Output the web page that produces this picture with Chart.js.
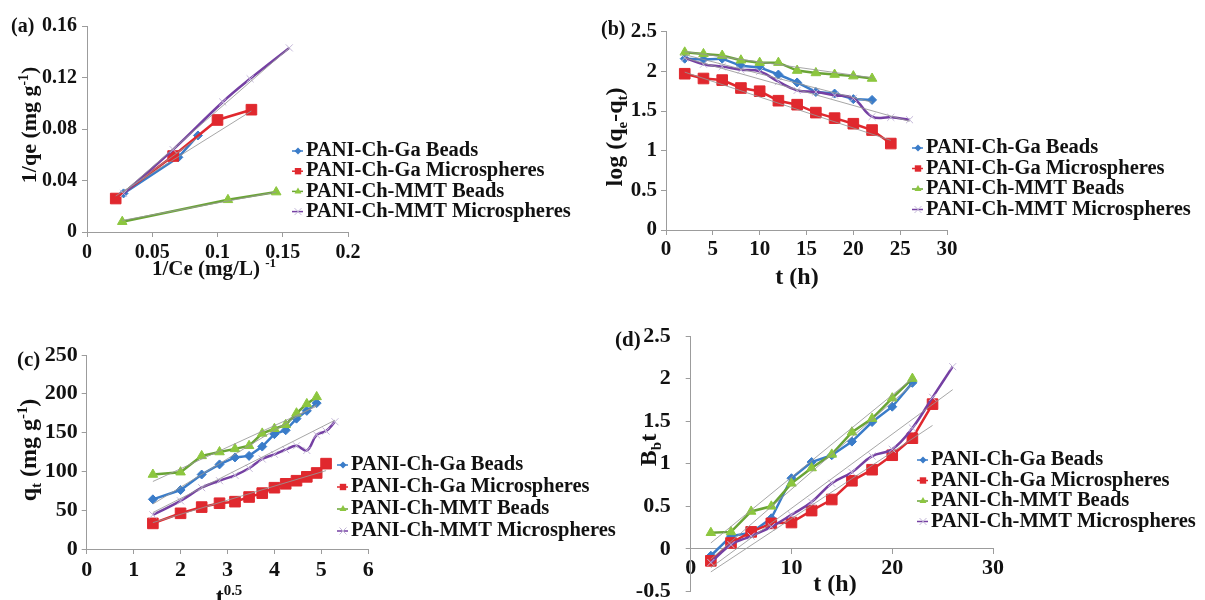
<!DOCTYPE html>
<html>
<head>
<meta charset="utf-8">
<title>PANI composite adsorption plots</title>
<script src="https://cdn.jsdelivr.net/npm/chart.js@4.4.0/dist/chart.umd.min.js"></script>
<style>
  html, body { margin: 0; padding: 0; background: #fff; }
  #wrap { position: relative; width: 1205px; height: 600px; overflow: hidden; }
  canvas { position: absolute; }
</style>
</head>
<body>
<div id="wrap">
  <canvas id="chartA" width="600" height="300" style="left:0;top:0"></canvas>
  <canvas id="chartB" width="605" height="300" style="left:600px;top:0"></canvas>
  <canvas id="chartC" width="640" height="300" style="left:0;top:300px"></canvas>
  <canvas id="chartD" width="605" height="300" style="left:600px;top:300px"></canvas>
</div>
<script>
const seriesNames = ['PANI-Ch-Ga Beads', 'PANI-Ch-Ga Microspheres', 'PANI-Ch-MMT Beads', 'PANI-Ch-MMT Microspheres'];

// (a) 1/qe vs 1/Ce
const aGaBeadsX = [0.028, 0.070, 0.085];
const aGaBeadsY = [0.030, 0.058, 0.075];
const aGaMicroX = [0.022, 0.066, 0.100, 0.126];
const aGaMicroY = [0.026, 0.059, 0.087, 0.095];
const aMmtBeadsX = [0.027, 0.108, 0.145];
const aMmtBeadsY = [0.008, 0.025, 0.031];
const aMmtMicroX = [0.028, 0.066, 0.104, 0.125, 0.155];
const aMmtMicroY = [0.030, 0.064, 0.101, 0.119, 0.143];
const aTrendGaBeads = [[0.028, 0.031], [0.086, 0.074]];
const aTrendGaMicro = [[0.022, 0.028], [0.126, 0.094]];
const aTrendMmtBeads = [[0.027, 0.009], [0.145, 0.031]];
const aTrendMmtMicro = [[0.028, 0.031], [0.155, 0.143]];
const aXTicks = [0, 0.05, 0.1, 0.15, 0.2];
const aYTicks = [0, 0.04, 0.08, 0.12, 0.16];

// (b) log(qe-qt) vs t, and (d) Bt vs t
const tHours = [2, 4, 6, 8, 10, 12, 14, 16, 18, 20, 22, 24, 26];
const bGaBeads = [2.16, 2.15, 2.16, 2.07, 2.05, 1.96, 1.86, 1.74, 1.72, 1.65, 1.64];
const bGaMicro = [1.97, 1.91, 1.89, 1.79, 1.75, 1.63, 1.58, 1.48, 1.41, 1.34, 1.26, 1.09];
const bMmtBeads = [2.24, 2.22, 2.20, 2.14, 2.11, 2.11, 2.01, 1.98, 1.96, 1.94, 1.91];
const bMmtMicro = [2.17, 2.09, 2.06, 2.02, 2.00, 1.87, 1.76, 1.74, 1.70, 1.66, 1.43, 1.42, 1.39];
const bTrendGaBeads = [[2, 2.21], [22, 1.61]];
const bTrendGaMicro = [[2, 1.99], [24, 1.13]];
const bTrendMmtBeads = [[2, 2.25], [22, 1.92]];
const bTrendMmtMicro = [[2, 2.17], [26, 1.37]];
const bXTicks = [0, 5, 10, 15, 20, 25, 30];
const bYTicks = [0, 0.5, 1, 1.5, 2, 2.5];

// (c) qt vs t^0.5
const sqrtT = [1.41, 2, 2.45, 2.83, 3.16, 3.46, 3.74, 4, 4.24, 4.47, 4.69, 4.9, 5.1, 5.29];
const cGaBeads = [64, 76, 96, 109, 118, 120, 132, 148, 153, 168, 178, 188];
const cGaMicro = [33, 46, 54, 59, 61, 67, 72, 79, 84, 88, 93, 98, 110];
const cMmtBeads = [96, 99, 120, 125, 129, 133, 149, 155, 160, 175, 187, 196];
const cMmtMicro = [44, 62, 79, 88, 95, 104, 116, 122, 128, 133, 127, 147, 152, 164];
const cTrendGaBeads = [[1.41, 58], [4.9, 186]];
const cTrendGaMicro = [[1.41, 34], [5.1, 101]];
const cTrendMmtBeads = [[1.41, 87], [4.9, 184]];
const cTrendMmtMicro = [[1.41, 47], [5.29, 166]];
const cXTicks = [0, 1, 2, 3, 4, 5, 6];
const cYTicks = [0, 50, 100, 150, 200, 250];

const dGaBeads = [-0.08, 0.15, 0.19, 0.36, 0.83, 1.02, 1.10, 1.26, 1.49, 1.67, 1.95];
const dGaMicro = [-0.14, 0.07, 0.20, 0.30, 0.31, 0.45, 0.58, 0.80, 0.93, 1.10, 1.30, 1.70];
const dMmtBeads = [0.19, 0.20, 0.44, 0.50, 0.77, 0.95, 1.11, 1.37, 1.53, 1.77, 2.00];
const dMmtMicro = [-0.16, 0.05, 0.15, 0.26, 0.40, 0.55, 0.77, 0.90, 1.09, 1.17, 1.42, 1.78, 2.14];
const dTrendGaBeads = [[2, -0.12], [22, 1.93]];
const dTrendGaMicro = [[2, -0.27], [24, 1.45]];
const dTrendMmtBeads = [[2, 0.07], [22, 2.00]];
const dTrendMmtMicro = [[2, -0.22], [26, 1.87]];
const dXTicks = [0, 10, 20, 30];
const dYTicks = [-0.5, 0, 0.5, 1, 1.5, 2, 2.5];

const FAMILY = '"Liberation Serif", "Times New Roman", serif';
const TEXT = '#111';
const AXIS = '#9c9c9c';
const TREND = 'rgba(150,150,150,0.85)';

const seriesStyle = [
  { line: '#3a7cc9', fill: '#3a7cc9', mark: '#3a7cc9', point: 'rectRot', r: 4.5, tension: 0 },
  { line: '#e0282e', fill: '#e0282e', mark: '#e0282e', point: 'rect', r: 7.5, tension: 0 },
  { line: '#6aa436', fill: '#8cc63f', mark: '#8cc63f', point: 'triangle', r: 5.5, tension: 0 },
  { line: '#7540a3', fill: '#c9bfdc', mark: '#c4b8d8', point: 'crossRot', r: 5, tension: 0.4 },
];

function buildDatasets(xsList, ysList, trends) {
  const sets = ysList.map((ys, i) => {
    const st = seriesStyle[i];
    const xs = xsList[i];
    return {
      label: seriesNames[i],
      data: ys.map((y, k) => ({ x: xs[k], y })),
      showLine: true,
      borderColor: st.line,
      borderWidth: 2.5,
      tension: st.tension,
      pointStyle: st.point,
      pointRadius: st.r,
      pointBackgroundColor: st.fill,
      pointBorderColor: st.mark,
      pointBorderWidth: 1,
      order: 3 - i,
    };
  });
  trends.forEach(seg => sets.push({
    data: seg.map(([x, y]) => ({ x, y })),
    showLine: true, borderColor: TREND, borderWidth: 1, pointRadius: 0, order: -1,
  }));
  return sets;
}

function axis(range, ticks, size, pad, fit, position) {
  const o = {
    type: 'linear', min: range[0], max: range[1],
    afterBuildTicks: s => { s.ticks = ticks.map(v => ({ value: v })); },
    afterFit: s => { fit(s); s.paddingTop = s.paddingBottom = s.paddingLeft = s.paddingRight = 0; },
    grid: { drawOnChartArea: false, tickLength: 5, color: AXIS, lineWidth: 1 },
    border: { color: AXIS, width: 1 },
    ticks: {
      color: TEXT, padding: pad, autoSkip: false, maxRotation: 0,
      font: { family: FAMILY, weight: 'bold', size },
      callback: v => String(+(+v).toFixed(3)),
    },
  };
  if (position) o.position = position;
  return o;
}

// text with sub/superscripts, centred on (x, y) or left-aligned
function drawRich(ctx, it) {
  ctx.save();
  ctx.translate(it.x, it.y);
  if (it.rot) ctx.rotate(-Math.PI / 2);
  ctx.fillStyle = TEXT;
  ctx.textBaseline = 'alphabetic';
  ctx.textAlign = 'left';
  const pieces = it.parts.map(p => {
    const s = (p.sup || p.sub) ? it.size * 0.62 : it.size;
    ctx.font = `bold ${s}px ${FAMILY}`;
    return Object.assign({ s, w: ctx.measureText(p.text).width }, p);
  });
  const total = pieces.reduce((a, p) => a + p.w, 0);
  let cx = it.align === 'left' ? 0 : -total / 2;
  const base = it.size * 0.34;
  pieces.forEach(p => {
    ctx.font = `bold ${p.s}px ${FAMILY}`;
    const dy = p.sup ? -it.size * 0.4 : p.sub ? it.size * 0.2 : 0;
    ctx.fillText(p.text, cx, base + dy);
    cx += p.w;
  });
  ctx.restore();
}

function drawMark(ctx, kind, x, y, r) {
  ctx.beginPath();
  if (kind === 'rectRot') {
    ctx.moveTo(x - r, y); ctx.lineTo(x, y - r); ctx.lineTo(x + r, y); ctx.lineTo(x, y + r); ctx.closePath(); ctx.fill();
  } else if (kind === 'rect') {
    ctx.rect(x - r, y - r, 2 * r, 2 * r); ctx.fill();
  } else if (kind === 'triangle') {
    ctx.moveTo(x, y - r); ctx.lineTo(x + r * 0.87, y + r * 0.5); ctx.lineTo(x - r * 0.87, y + r * 0.5); ctx.closePath(); ctx.fill();
  } else {
    ctx.moveTo(x - r, y - r); ctx.lineTo(x + r, y + r); ctx.moveTo(x + r, y - r); ctx.lineTo(x - r, y + r); ctx.stroke();
  }
}

function legendPlugin(lg) {
  return {
    id: 'sideLegend',
    afterDraw(chart) {
      const ctx = chart.ctx;
      ctx.save();
      seriesNames.forEach((name, i) => {
        const st = seriesStyle[i];
        const y = lg.y0 + i * lg.gap;
        ctx.strokeStyle = st.line;
        ctx.lineWidth = 1.5;
        ctx.beginPath(); ctx.moveTo(lg.x - 6, y); ctx.lineTo(lg.x + 5, y); ctx.stroke();
        ctx.fillStyle = st.fill;
        ctx.strokeStyle = st.mark;
        ctx.lineWidth = 1;
        drawMark(ctx, st.point, lg.x, y, [3.5, 3.2, 4, 3.5][i]);
        ctx.fillStyle = TEXT;
        ctx.font = `bold 20.5px ${FAMILY}`;
        ctx.textBaseline = 'middle';
        ctx.textAlign = 'left';
        ctx.fillText(name, lg.x + 8, y);
      });
      ctx.restore();
    },
  };
}

function textPlugin(items) {
  return { id: 'panelText', afterDraw(chart) { items.forEach(it => drawRich(chart.ctx, it)); } };
}

function makePanel(id, p) {
  new Chart(document.getElementById(id), {
    type: 'scatter',
    data: { datasets: buildDatasets(p.xs, p.ys, p.trends) },
    options: {
      responsive: false,
      animation: false,
      events: [],
      layout: { padding: { top: p.top, right: p.right, left: 0, bottom: 0 } },
      plugins: { legend: { display: false }, tooltip: { enabled: false } },
      scales: {
        x: axis(p.xRange, p.xTicks, p.font, p.xPad, s => { s.height = p.xHeight; }, p.xPos),
        y: axis(p.yRange, p.yTicks, p.font, p.yPad, s => { s.width = p.yWidth; }),
      },
    },
    plugins: [legendPlugin(p.legend), textPlugin(p.texts)],
  });
}

makePanel('chartA', {
  xs: [aGaBeadsX, aGaMicroX, aMmtBeadsX, aMmtMicroX],
  ys: [aGaBeadsY, aGaMicroY, aMmtBeadsY, aMmtMicroY],
  trends: [aTrendGaBeads, aTrendGaMicro, aTrendMmtBeads, aTrendMmtMicro],
  xRange: [0, 0.2], xTicks: aXTicks, yRange: [0, 0.16], yTicks: aYTicks,
  font: 20, xPad: 4, yPad: 5, yWidth: 87, xHeight: 68, top: 26, right: 252,
  legend: { x: 298, y0: 151, gap: 20.2 },
  texts: [
    { parts: [{ text: '(a)' }], x: 11, y: 25, size: 20, align: 'left' },
    { parts: [{ text: '1/qe (mg g' }, { text: '-1', sup: true }, { text: ')' }], x: 29, y: 125, size: 22, rot: true },
    { parts: [{ text: '1/Ce (mg/L) ' }, { text: '-1', sup: true }], x: 214, y: 268, size: 21 },
  ],
});

makePanel('chartB', {
  xs: [tHours, tHours, tHours, tHours],
  ys: [bGaBeads, bGaMicro, bMmtBeads, bMmtMicro],
  trends: [bTrendGaBeads, bTrendGaMicro, bTrendMmtBeads, bTrendMmtMicro],
  xRange: [0, 30], xTicks: bXTicks, yRange: [0, 2.5], yTicks: bYTicks,
  font: 21, xPad: 2, yPad: 4, yWidth: 66, xHeight: 70, top: 31.7, right: 258,
  legend: { x: 318, y0: 148, gap: 20.5 },
  texts: [
    { parts: [{ text: '(b)' }], x: 1, y: 28, size: 20, align: 'left' },
    { parts: [{ text: 'log (q' }, { text: 'e', sub: true }, { text: '-q' }, { text: 't', sub: true }, { text: ')' }], x: 14, y: 137, size: 24, rot: true },
    { parts: [{ text: 't (h)' }], x: 197, y: 276, size: 24 },
  ],
});

makePanel('chartC', {
  xs: [sqrtT, sqrtT, sqrtT, sqrtT],
  ys: [cGaBeads, cGaMicro, cMmtBeads, cMmtMicro],
  trends: [cTrendGaBeads, cTrendGaMicro, cTrendMmtBeads, cTrendMmtMicro],
  xRange: [0, 6], xTicks: cXTicks, yRange: [0, 250], yTicks: cYTicks,
  font: 22, xPad: 3, yPad: 4, yWidth: 86.7, xHeight: 51, top: 55, right: 271.7,
  legend: { x: 343, y0: 165, gap: 22 },
  texts: [
    { parts: [{ text: '(c)' }], x: 17, y: 59, size: 21, align: 'left' },
    { parts: [{ text: 'q' }, { text: 't', sub: true }, { text: ' (mg g' }, { text: '-1', sup: true }, { text: ')' }], x: 28, y: 150, size: 24, rot: true },
    { parts: [{ text: 't' }, { text: '0.5', sup: true }], x: 229, y: 296, size: 24 },
  ],
});

makePanel('chartD', {
  xs: [tHours, tHours, tHours, tHours],
  ys: [dGaBeads, dGaMicro, dMmtBeads, dMmtMicro],
  trends: [dTrendGaBeads, dTrendGaMicro, dTrendMmtBeads, dTrendMmtMicro],
  xRange: [0, 30], xTicks: dXTicks, yRange: [-0.5, 2.5], yTicks: dYTicks,
  font: 22, xPad: 1, yPad: 15, yWidth: 90.7, xHeight: 11.7, top: 36, right: 212,
  xPos: { y: 0 },
  legend: { x: 323, y0: 160, gap: 20.5 },
  texts: [
    { parts: [{ text: '(d)' }], x: 15, y: 39, size: 21, align: 'left' },
    { parts: [{ text: 'B' }, { text: 'b', sub: true }, { text: 't' }], x: 48, y: 150, size: 24, rot: true },
    { parts: [{ text: 't (h)' }], x: 235, y: 283, size: 24 },
  ],
});
</script>
</body>
</html>
